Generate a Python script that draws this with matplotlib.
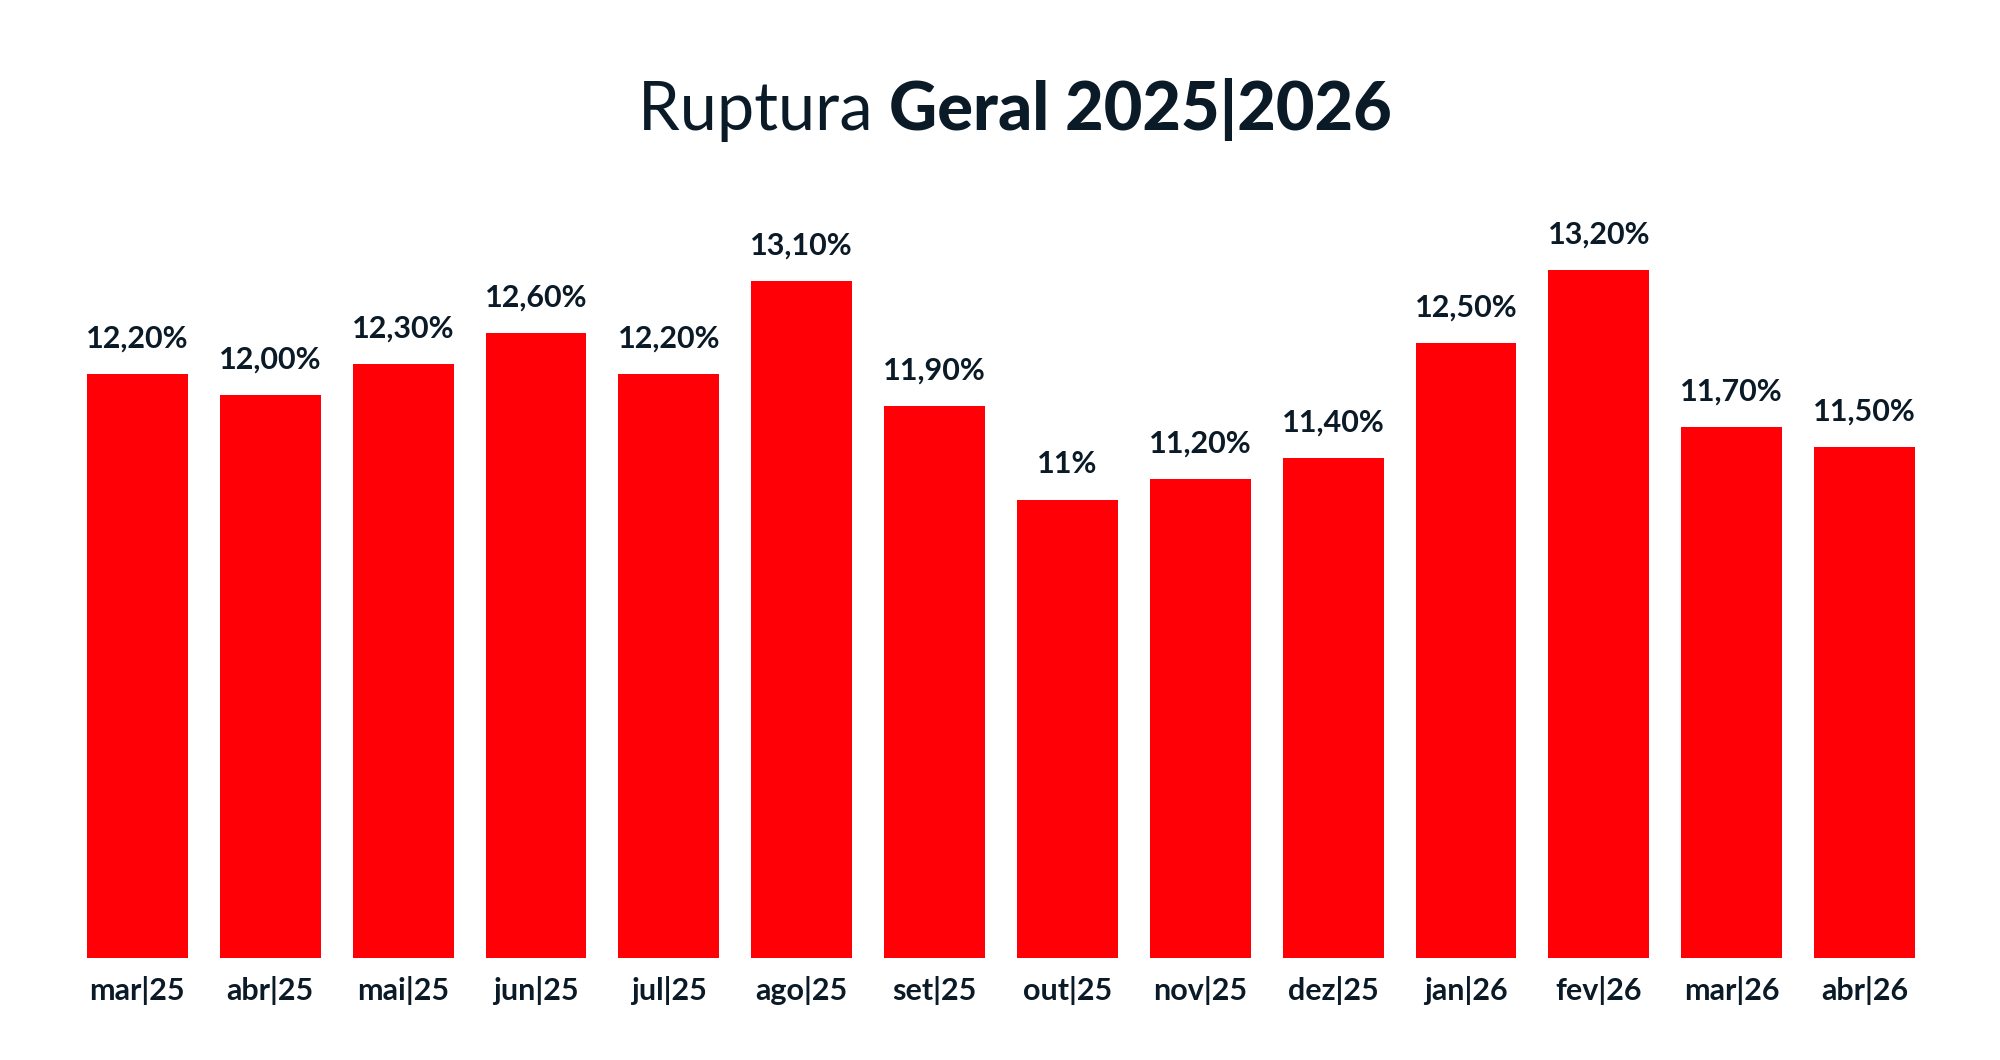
import matplotlib
matplotlib.use("Agg")
import matplotlib.pyplot as plt

categories = ["mar|25", "abr|25", "mai|25", "jun|25", "jul|25", "ago|25", "set|25",
              "out|25", "nov|25", "dez|25", "jan|26", "fev|26", "mar|26", "abr|26"]
values = [12.2, 12.0, 12.3, 12.6, 12.2, 13.1, 11.9, 11.0, 11.2, 11.4, 12.5, 13.2, 11.7, 11.5]
value_labels = ["12,20%", "12,00%", "12,30%", "12,60%", "12,20%", "13,10%", "11,90%",
                "11%", "11,20%", "11,40%", "12,50%", "13,20%", "11,70%", "11,50%"]

RED = "#FE0006"
DARK = "#0B1A27"
FONT = ["Lato", "DejaVu Sans"]

fig = plt.figure(figsize=(20, 10.6), dpi=100)
ax = fig.add_axes([0.0355, 0.0962, 0.930, 0.7275])

x = list(range(len(categories)))
ax.bar(x, values, width=0.76, color=RED, bottom=0)
ax.set_xlim(-0.5, len(categories) - 0.5)
ax.set_ylim(6.6, 14.0)

for xi, v, lab in zip(x, values, value_labels):
    ax.annotate(lab, (xi, v), xytext=(0, 19), textcoords="offset points",
                ha="center", va="baseline", fontsize=22, fontweight="bold",
                color=DARK, family=FONT)

ax.set_xticks(x)
ax.set_xticklabels(categories, fontsize=22, fontweight="bold", color=DARK, family=FONT)
ax.tick_params(axis="x", length=0, pad=13)
ax.set_yticks([])
for s in ax.spines.values():
    s.set_visible(False)

# Title with two weights, centered
t1 = fig.text(0, 0, "Ruptura ", fontsize=48, fontweight="normal", color=DARK, family=FONT)
t2 = fig.text(0, 0, "Geral 2025|2026", fontsize=48, fontweight="black", color=DARK, family=FONT)
fig.canvas.draw()
r = fig.canvas.get_renderer()
w1 = t1.get_window_extent(r).width
w2 = t2.get_window_extent(r).width
W = fig.bbox.width
cx = 1015.0
y = 1 - 130.0 / 1060.0
x0 = cx - (w1 + w2) / 2
t1.set_position((x0 / W, y))
t2.set_position(((x0 + w1) / W, y))
t1.set_va("baseline")
t2.set_va("baseline")

fig.savefig("out.png", dpi=100, facecolor="white")
